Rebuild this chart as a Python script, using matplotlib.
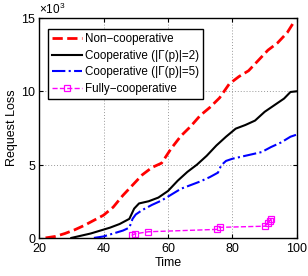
import matplotlib
matplotlib.use("Agg")
import matplotlib.pyplot as plt
from matplotlib.ticker import ScalarFormatter

plt.rcParams['font.family'] = ['Liberation Sans', 'DejaVu Sans']
plt.rcParams['mathtext.fontset'] = 'custom'
plt.rcParams['mathtext.rm'] = 'Liberation Sans'

# Non-cooperative
t_non = [22, 25, 28, 31, 34, 37, 40, 43, 46, 49, 52, 55, 58, 61, 64, 67, 70, 73, 76, 79, 82, 85, 88, 91, 94, 97, 99]
v_non = [0, 0.1, 0.3, 0.55, 0.85, 1.2, 1.55, 2.1, 2.9, 3.6, 4.3, 4.8, 5.1, 6.1, 6.95, 7.6, 8.35, 8.9, 9.55, 10.5, 11.0, 11.4, 12.1, 12.8, 13.3, 14.0, 14.7]

# Cooperative |Gamma(p)|=2
t_c2 = [30, 33, 36, 39, 42, 45, 48, 49.5, 51, 54, 57, 60, 63, 66, 69, 72, 75, 78, 81, 84, 87, 90, 93, 96, 98, 100]
v_c2 = [0, 0.15, 0.3, 0.5, 0.7, 0.95, 1.3, 2.0, 2.35, 2.5, 2.75, 3.2, 3.9, 4.5, 5.0, 5.6, 6.3, 6.9, 7.45, 7.7, 8.0, 8.6, 9.05, 9.5, 9.95, 10.0]

# Cooperative |Gamma(p)|=5
t_c5 = [37, 40, 43, 46, 48, 49, 50, 52, 55, 58, 61, 64, 67, 70, 73, 75.5, 76.5, 78, 80, 83, 86, 89, 92, 95, 98, 100]
v_c5 = [0, 0.1, 0.3, 0.5, 0.7, 1.3, 1.6, 1.9, 2.25, 2.55, 2.95, 3.35, 3.6, 3.85, 4.15, 4.45, 4.95, 5.25, 5.4, 5.55, 5.7, 5.85, 6.2, 6.5, 6.9, 7.05]

# Fully-cooperative
t_full = [48.7, 49.8, 53.9, 75.1, 76.1, 90.1, 91.0, 91.6, 92.1]
v_full = [0.17, 0.28, 0.42, 0.58, 0.72, 0.8, 1.02, 1.18, 1.3]

labels = ['Non−cooperative', 'Cooperative (|Γ(p)|=2)', 'Cooperative (|Γ(p)|=5)', 'Fully−cooperative']

fig = plt.figure(figsize=(3.08, 2.76), dpi=100)
ax = fig.add_axes([0.127, 0.138, 0.837, 0.797])

k = 1000
ax.plot(t_non, [v * k for v in v_non], color='red', ls='--', lw=2.0, label=labels[0])
ax.plot(t_c2, [v * k for v in v_c2], color='black', ls='-', lw=1.5, label=labels[1])
ax.plot(t_c5, [v * k for v in v_c5], color='blue', ls='-.', lw=1.5, label=labels[2])
ax.plot(t_full, [v * k for v in v_full], color='magenta', ls='--', lw=1.0,
        marker='s', markersize=4, markerfacecolor='none', markeredgewidth=0.9, label=labels[3])

ax.set_xlim(20, 100)
ax.set_ylim(0, 15000)
ax.set_xticks([20, 40, 60, 80, 100])
ax.set_yticks([0, 5000, 10000, 15000])
fmt = ScalarFormatter(useMathText=True)
fmt.set_powerlimits((3, 3))
ax.yaxis.set_major_formatter(fmt)
ax.yaxis.get_offset_text().set_fontsize(8.5)

ax.grid(True, ls=(0, (1, 2)), color='#999999', lw=0.7)
ax.tick_params(direction='in', top=True, right=True, labelsize=9, length=3, width=0.8, pad=2)
ax.tick_params(axis='x', pad=4)
for s in ax.spines.values():
    s.set_linewidth(1.0)

ax.set_xlabel('Time', fontsize=9, labelpad=1)
ax.set_ylabel('Request Loss', fontsize=9, labelpad=2)

leg = ax.legend(loc='upper left', bbox_to_anchor=(0.036, 0.95), fontsize=8.4, frameon=True,
                fancybox=False, edgecolor='black', framealpha=1, borderpad=0.35,
                labelspacing=0.4, handlelength=2.5, handletextpad=0.25, borderaxespad=0)
leg.get_frame().set_linewidth(1.0)

fig.savefig('out.png', dpi=100)
